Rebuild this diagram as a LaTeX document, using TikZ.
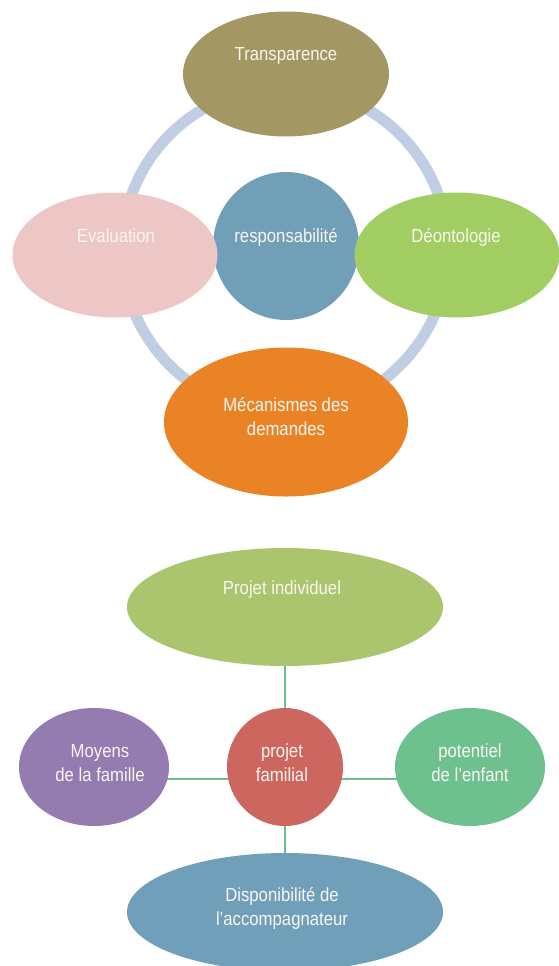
\documentclass[tikz,border=0pt]{standalone}
\usepackage{fontspec}
\setmainfont{Liberation Sans}[FakeStretch=0.88]
\usetikzlibrary{shapes.geometric,backgrounds}
\definecolor{ringc}{HTML}{BFCEE2}
\definecolor{transc}{HTML}{A39764}
\definecolor{evalc}{HTML}{EDC6C6}
\definecolor{respc}{HTML}{719FB8}
\definecolor{deonc}{HTML}{A2CD63}
\definecolor{mecac}{HTML}{E98325}
\definecolor{pic}{HTML}{ABC46E}
\definecolor{moc}{HTML}{947BB0}
\definecolor{pfc}{HTML}{CD665E}
\definecolor{poc}{HTML}{6EC08F}
\definecolor{dpc}{HTML}{709FBA}
\definecolor{connc}{HTML}{6CC08E}
\definecolor{txtc}{HTML}{FAF6F2}
\newcommand{\twolines}[2]{\begin{tabular}[t]{@{}c@{}}#1\\#2\end{tabular}}
\tikzset{
  blob/.style={ellipse, inner sep=0pt, draw=none},
  lbl/.style={text=txtc, font=\fontsize{19}{24}\selectfont, anchor=base, inner sep=0pt},
  ringline/.style={draw=ringc, line width=11pt},
  conn/.style={draw=connc, line width=2.5pt}
}
\begin{document}
\begin{tikzpicture}[x=1pt,y=-1pt]
\useasboundingbox (0,0) rectangle (558,966);
% ---------- upper diagram ----------
\draw[ringline] (285,250) circle[radius=163];
\node[blob, fill=respc, minimum width=146pt, minimum height=148pt] (resp) at (286,246) {};
\node[blob, fill=transc, minimum width=206pt, minimum height=125pt] (trans) at (286,74) {};
\node[blob, fill=evalc, minimum width=205pt, minimum height=125pt] (eval) at (115,255) {};
\node[blob, fill=deonc, minimum width=205pt, minimum height=125pt] (deon) at (457,255) {};
\node[blob, fill=mecac, minimum width=244pt, minimum height=149pt] (meca) at (286,422) {};
\node[lbl] (tTrans) at (286,61) {Transparence};
\node[lbl] (tEval) at (116,242) {Evaluation};
\node[lbl] (tResp) at (286,242) {responsabilité};
\node[lbl] (tDeon) at (456,242) {Déontologie};
\node[lbl] (tMeca) at (286,411) {\twolines{Mécanismes des}{demandes}};
% ---------- lower diagram ----------
\node[blob, fill=pic, minimum width=316pt, minimum height=118pt] (pi) at (285,607) {};
\node[blob, fill=moc, minimum width=150pt, minimum height=118pt] (mo) at (94,767) {};
\node[blob, fill=pfc, minimum width=116pt, minimum height=118pt] (pf) at (285,767) {};
\node[blob, fill=poc, minimum width=150pt, minimum height=118pt] (po) at (470,767) {};
\node[blob, fill=dpc, minimum width=316pt, minimum height=118pt] (dp) at (285,912) {};
\begin{scope}[on background layer]
  \draw[conn] (pi) -- (pf);
  \draw[conn] (pf) -- (dp);
  \draw[conn] ([yshift=-12pt]mo.center) -- ([yshift=-12pt]pf.center);
  \draw[conn] ([yshift=-12pt]pf.center) -- ([yshift=-12pt]po.center);
\end{scope}
\node[lbl] (tPi) at (282,594) {Projet individuel};
\node[lbl] (tMo) at (100,757) {\twolines{Moyens}{de la famille}};
\node[lbl] (tPf) at (282,757) {\twolines{projet}{familial}};
\node[lbl] (tPo) at (470,757) {\twolines{potentiel}{de l’enfant}};
\node[lbl] (tDp) at (282,901) {\twolines{Disponibilité de}{l’accompagnateur}};
\end{tikzpicture}
\end{document}
